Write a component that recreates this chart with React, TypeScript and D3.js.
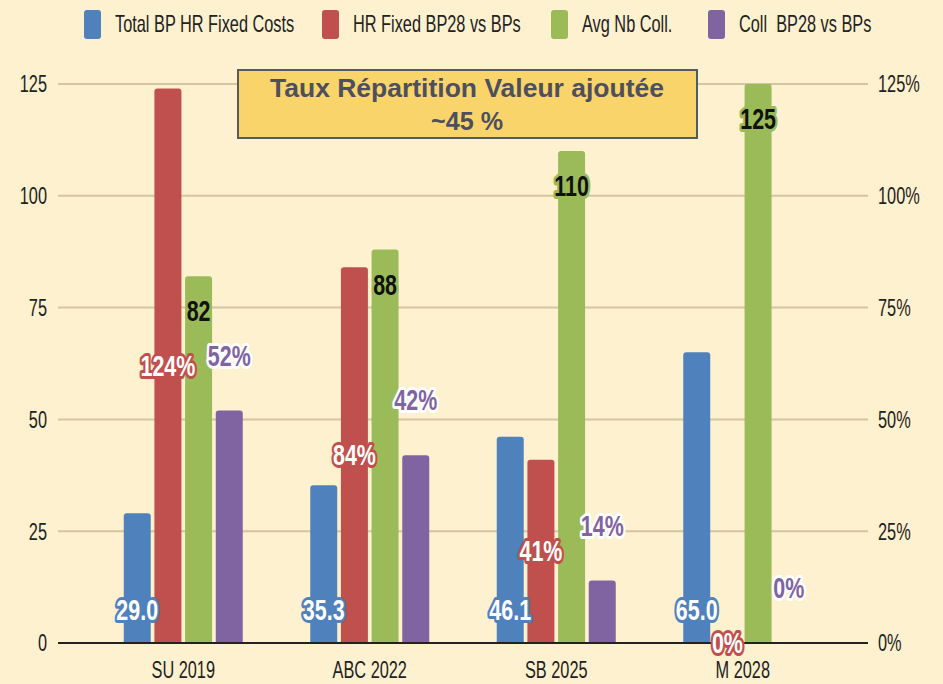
import React, { useEffect, useRef } from 'react';
import * as d3 from 'd3';

const categories = ['SU 2019', 'ABC 2022', 'SB 2025', 'M 2028'];
const seriesNames = ['Total BP HR Fixed Costs', 'HR Fixed BP28 vs BPs', 'Avg Nb Coll.', 'Coll  BP28 vs BPs'];
const totalCosts = [29.0, 35.3, 46.1, 65.0];
const hrFixedPct = [124, 84, 41, 0];
const avgColl = [82, 88, 110, 125];
const collPct = [52, 42, 14, 0];
const leftTicks = [0, 25, 50, 75, 100, 125];
const rightTicks = [0, 25, 50, 75, 100, 125];
const titleLines = ['Taux Répartition Valeur ajoutée', '~45 %'];

const W = 943;
const H = 684;
const colors = ['#4F81BD', '#C0504D', '#9BBB59', '#8064A2'];
const sans = "'Liberation Sans', Arial, sans-serif";

const App = () => {
  const svgRef = useRef<SVGSVGElement>(null);

  useEffect(() => {
    const svg = d3.select(svgRef.current);
    svg.selectAll('*').remove();

    svg.append('rect').attr('width', W).attr('height', H).attr('fill', '#FEF1CF');

    // no condensed font installed, so squeeze Liberation Sans horizontally
    const narrowText = (g: any, data: any[], xf: (d: any, i: number) => number, yf: (d: any, i: number) => number, sq = 0.68) =>
      g.selectAll('text').data(data).enter().append('text')
        .attr('transform', (d: any, i: number) => `translate(${xf(d, i)},${yf(d, i)}) scale(${sq},1)`)
        .attr('dy', '0.35em').attr('font-family', sans);

    const gridLeft = 58, gridRight = 868;
    const y = d3.scaleLinear().domain([0, 125]).range([643, 84]);
    const yPct = d3.scaleLinear().domain([0, 125]).range([643, 84]);
    const x = d3.scaleBand().domain(categories).range([90, 836]).paddingInner(0).paddingOuter(0);
    const inner = d3.scaleBand().domain(d3.range(4).map(String)).range([0, 119]).paddingInner(0.12);

    // gridlines
    svg.append('g').selectAll('line').data(leftTicks.filter(t => t > 0)).enter().append('line')
      .attr('x1', gridLeft).attr('x2', gridRight)
      .attr('y1', d => y(d)).attr('y2', d => y(d))
      .attr('stroke', '#D3C4A2').attr('stroke-width', 2);

    // left ticks
    narrowText(svg.append('g'), leftTicks, () => 47, d => y(d))
      .attr('text-anchor', 'end').attr('font-size', 24).attr('fill', '#222')
      .text((d: number) => d);

    // right ticks
    narrowText(svg.append('g'), rightTicks, () => 878, d => yPct(d))
      .attr('text-anchor', 'start').attr('font-size', 24).attr('fill', '#222')
      .text((d: number) => d + '%');

    const series = [
      { vals: totalCosts, scale: y },
      { vals: hrFixedPct, scale: yPct },
      { vals: avgColl, scale: y },
      { vals: collPct, scale: yPct },
    ];

    const barPath = (x0: number, w: number, top: number, base: number) => {
      if (base - top <= 0) return '';
      const r = Math.min(3, (base - top) / 2);
      return `M${x0},${base}V${top + r}Q${x0},${top} ${x0 + r},${top}H${x0 + w - r}Q${x0 + w},${top} ${x0 + w},${top + r}V${base}Z`;
    };

    const groupOffset = (c: string) => (x(c) as number) + x.bandwidth() / 2 - 119 / 2;
    const barCenter = (c: string, si: number) => groupOffset(c) + (inner(String(si)) as number) + inner.bandwidth() / 2;

    series.forEach((s, si) => {
      svg.append('g').selectAll('path').data(categories).enter().append('path')
        .attr('d', (c, i) => barPath(groupOffset(c) + (inner(String(si)) as number), inner.bandwidth(), s.scale(s.vals[i]), 643))
        .attr('fill', colors[si]);
    });

    // zero line
    svg.append('line').attr('x1', gridLeft).attr('x2', gridRight).attr('y1', 643).attr('y2', 643)
      .attr('stroke', '#222').attr('stroke-width', 2);

    // category labels
    narrowText(svg.append('g'), categories, c => (x(c) as number) + x.bandwidth() / 2, () => 670)
      .attr('text-anchor', 'middle').attr('font-size', 24).attr('fill', '#222')
      .text((c: string) => c);

    // data labels
    const labelStyle = [
      { fill: '#fff', stroke: colors[0], fmt: (v: number) => v.toFixed(1), pos: (_v: number, sc: any) => 643 - 33 },
      { fill: '#fff', stroke: colors[1], fmt: (v: number) => v + '%', pos: (v: number, sc: any) => (sc(v) + 643) / 2 },
      { fill: '#111', stroke: colors[2], fmt: (v: number) => String(v), pos: (v: number, sc: any) => sc(v) + 35 },
      { fill: '#8064A2', stroke: '#fff', fmt: (v: number) => v + '%', pos: (v: number, sc: any) => sc(v) - 55 },
    ];

    series.forEach((s, si) => {
      const st = labelStyle[si];
      narrowText(svg.append('g'), categories, c => barCenter(c, si), (c, i) => st.pos(s.vals[i], s.scale), 0.74)
        .attr('text-anchor', 'middle').attr('font-weight', 'bold')
        .attr('font-size', 29).attr('fill', st.fill)
        .attr('stroke', st.stroke).attr('stroke-width', 6).attr('stroke-linejoin', 'round')
        .attr('paint-order', 'stroke')
        .text((c: string, i: number) => st.fmt(s.vals[i]));
    });

    // title box
    const tb = svg.append('g');
    tb.append('rect').attr('x', 238).attr('y', 70).attr('width', 459).attr('height', 68)
      .attr('fill', '#F8D46A').attr('stroke', '#555a60').attr('stroke-width', 2);
    tb.selectAll('text').data(titleLines).enter().append('text')
      .attr('x', 467).attr('y', (d, i) => 88 + i * 33).attr('dy', '0.35em')
      .attr('text-anchor', 'middle').attr('font-family', sans)
      .attr('font-weight', 'bold').attr('font-size', 25).attr('fill', '#4E4F5E')
      .attr('textLength', (d, i) => (i === 0 ? 394 : 72)).attr('lengthAdjust', 'spacingAndGlyphs')
      .text(d => d);

    // legend
    const legendX = [84, 322, 551, 708];
    const lg = svg.append('g');
    seriesNames.forEach((n, i) => {
      lg.append('rect').attr('x', legendX[i]).attr('y', 10).attr('width', 17).attr('height', 29)
        .attr('rx', 3).attr('fill', colors[i]);
    });
    narrowText(lg, seriesNames, (d, i) => legendX[i] + 31, () => 24)
      .attr('font-size', 24).attr('fill', '#222')
      .style('white-space', 'pre')
      .text((d: string) => d);
  }, []);

  return (
    <svg ref={svgRef} width={W} height={H} style={{ display: 'block', position: 'absolute', left: 0, top: 0 }} />
  );
};

export default App;
